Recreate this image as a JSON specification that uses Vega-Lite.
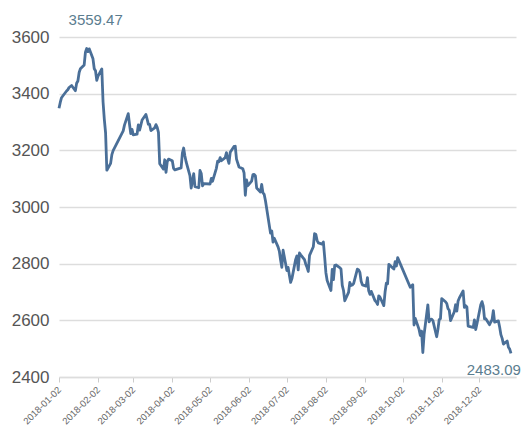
{
  "$schema": "https://vega.github.io/schema/vega-lite/v6.json",
  "autosize": "none",
  "padding": {"left": 59, "top": 37, "right": 12, "bottom": 61},
  "width": 457,
  "height": 340,
  "background": "white",
  "config": {"view": {"stroke": null}, "font": "Liberation Sans"},
  "data": {"values": [
    {"date":"2018-01-02","close":3348.33},{"date":"2018-01-03","close":3369.11},{"date":"2018-01-04","close":3385.71},{"date":"2018-01-05","close":3391.75},
    {"date":"2018-01-08","close":3409.48},{"date":"2018-01-09","close":3413.90},{"date":"2018-01-10","close":3421.83},{"date":"2018-01-11","close":3425.34},{"date":"2018-01-12","close":3428.94},
    {"date":"2018-01-15","close":3410.49},{"date":"2018-01-16","close":3436.59},{"date":"2018-01-17","close":3444.67},{"date":"2018-01-18","close":3474.75},{"date":"2018-01-19","close":3487.86},
    {"date":"2018-01-22","close":3501.36},{"date":"2018-01-23","close":3546.50},{"date":"2018-01-24","close":3559.47},{"date":"2018-01-25","close":3548.31},{"date":"2018-01-26","close":3558.13},
    {"date":"2018-01-29","close":3523.00},{"date":"2018-01-30","close":3488.01},{"date":"2018-01-31","close":3480.83},{"date":"2018-02-01","close":3446.98},{"date":"2018-02-02","close":3462.08},
    {"date":"2018-02-05","close":3487.50},{"date":"2018-02-06","close":3370.65},{"date":"2018-02-07","close":3309.26},{"date":"2018-02-08","close":3262.05},{"date":"2018-02-09","close":3129.85},
    {"date":"2018-02-12","close":3154.13},{"date":"2018-02-13","close":3184.96},{"date":"2018-02-14","close":3199.16},
    {"date":"2018-02-22","close":3268.56},{"date":"2018-02-23","close":3289.02},
    {"date":"2018-02-26","close":3329.57},{"date":"2018-02-27","close":3292.07},{"date":"2018-02-28","close":3259.41},{"date":"2018-03-01","close":3273.75},{"date":"2018-03-02","close":3254.53},
    {"date":"2018-03-05","close":3256.93},{"date":"2018-03-06","close":3289.64},{"date":"2018-03-07","close":3271.67},{"date":"2018-03-08","close":3288.41},{"date":"2018-03-09","close":3307.17},
    {"date":"2018-03-12","close":3326.70},{"date":"2018-03-13","close":3310.24},{"date":"2018-03-14","close":3291.38},{"date":"2018-03-15","close":3291.11},{"date":"2018-03-16","close":3269.88},
    {"date":"2018-03-19","close":3279.25},{"date":"2018-03-20","close":3290.64},{"date":"2018-03-21","close":3280.95},{"date":"2018-03-22","close":3263.48},{"date":"2018-03-23","close":3152.76},
    {"date":"2018-03-26","close":3133.72},{"date":"2018-03-27","close":3166.65},{"date":"2018-03-28","close":3122.29},{"date":"2018-03-29","close":3160.53},{"date":"2018-03-30","close":3168.90},
    {"date":"2018-04-02","close":3163.18},{"date":"2018-04-03","close":3136.63},{"date":"2018-04-04","close":3131.11},
    {"date":"2018-04-09","close":3138.29},{"date":"2018-04-10","close":3190.32},{"date":"2018-04-11","close":3208.08},{"date":"2018-04-12","close":3180.16},{"date":"2018-04-13","close":3159.05},
    {"date":"2018-04-16","close":3110.65},{"date":"2018-04-17","close":3066.80},{"date":"2018-04-18","close":3091.40},{"date":"2018-04-19","close":3117.38},{"date":"2018-04-20","close":3071.54},
    {"date":"2018-04-23","close":3068.01},{"date":"2018-04-24","close":3128.93},{"date":"2018-04-25","close":3117.97},{"date":"2018-04-26","close":3075.03},{"date":"2018-04-27","close":3082.23},
    {"date":"2018-05-02","close":3081.18},{"date":"2018-05-03","close":3100.86},{"date":"2018-05-04","close":3091.03},
    {"date":"2018-05-07","close":3136.64},{"date":"2018-05-08","close":3161.50},{"date":"2018-05-09","close":3159.15},{"date":"2018-05-10","close":3174.41},{"date":"2018-05-11","close":3163.26},
    {"date":"2018-05-14","close":3174.03},{"date":"2018-05-15","close":3192.12},{"date":"2018-05-16","close":3169.57},{"date":"2018-05-17","close":3154.28},{"date":"2018-05-18","close":3193.30},
    {"date":"2018-05-21","close":3213.84},{"date":"2018-05-22","close":3214.35},{"date":"2018-05-23","close":3168.96},{"date":"2018-05-24","close":3154.65},{"date":"2018-05-25","close":3141.30},
    {"date":"2018-05-28","close":3135.08},{"date":"2018-05-29","close":3120.46},{"date":"2018-05-30","close":3041.44},{"date":"2018-05-31","close":3095.47},{"date":"2018-06-01","close":3075.14},
    {"date":"2018-06-04","close":3091.19},{"date":"2018-06-05","close":3114.21},{"date":"2018-06-06","close":3115.18},{"date":"2018-06-07","close":3109.50},{"date":"2018-06-08","close":3067.15},
    {"date":"2018-06-11","close":3052.78},{"date":"2018-06-12","close":3079.80},{"date":"2018-06-13","close":3049.80},{"date":"2018-06-14","close":3044.16},{"date":"2018-06-15","close":3021.90},
    {"date":"2018-06-19","close":2907.82},{"date":"2018-06-20","close":2915.73},{"date":"2018-06-21","close":2875.81},{"date":"2018-06-22","close":2889.76},
    {"date":"2018-06-25","close":2859.34},{"date":"2018-06-26","close":2844.51},{"date":"2018-06-27","close":2813.18},{"date":"2018-06-28","close":2786.90},{"date":"2018-06-29","close":2847.42},
    {"date":"2018-07-02","close":2775.56},{"date":"2018-07-03","close":2786.89},{"date":"2018-07-04","close":2759.13},{"date":"2018-07-05","close":2733.88},{"date":"2018-07-06","close":2747.23},
    {"date":"2018-07-09","close":2815.11},{"date":"2018-07-10","close":2827.63},{"date":"2018-07-11","close":2777.77},{"date":"2018-07-12","close":2837.66},{"date":"2018-07-13","close":2831.18},
    {"date":"2018-07-16","close":2814.04},{"date":"2018-07-17","close":2798.13},{"date":"2018-07-18","close":2787.26},{"date":"2018-07-19","close":2772.55},{"date":"2018-07-20","close":2829.27},
    {"date":"2018-07-23","close":2859.54},{"date":"2018-07-24","close":2905.56},{"date":"2018-07-25","close":2903.65},{"date":"2018-07-26","close":2882.23},{"date":"2018-07-27","close":2873.59},
    {"date":"2018-07-30","close":2869.05},{"date":"2018-07-31","close":2876.40},{"date":"2018-08-01","close":2824.53},{"date":"2018-08-02","close":2768.02},{"date":"2018-08-03","close":2740.44},
    {"date":"2018-08-06","close":2705.16},{"date":"2018-08-07","close":2779.37},{"date":"2018-08-08","close":2744.07},{"date":"2018-08-09","close":2794.38},{"date":"2018-08-10","close":2795.31},
    {"date":"2018-08-13","close":2785.87},{"date":"2018-08-14","close":2780.96},{"date":"2018-08-15","close":2723.26},{"date":"2018-08-16","close":2705.19},{"date":"2018-08-17","close":2668.97},
    {"date":"2018-08-20","close":2698.47},{"date":"2018-08-21","close":2733.70},{"date":"2018-08-22","close":2722.89},{"date":"2018-08-23","close":2724.62},{"date":"2018-08-24","close":2729.43},
    {"date":"2018-08-27","close":2780.90},{"date":"2018-08-28","close":2777.98},{"date":"2018-08-29","close":2769.30},{"date":"2018-08-30","close":2737.74},{"date":"2018-08-31","close":2725.25},
    {"date":"2018-09-03","close":2720.73},{"date":"2018-09-04","close":2750.58},{"date":"2018-09-05","close":2704.34},{"date":"2018-09-06","close":2691.59},{"date":"2018-09-07","close":2702.30},
    {"date":"2018-09-10","close":2669.48},{"date":"2018-09-11","close":2664.80},{"date":"2018-09-12","close":2656.11},{"date":"2018-09-13","close":2686.58},{"date":"2018-09-14","close":2681.64},
    {"date":"2018-09-17","close":2651.79},{"date":"2018-09-18","close":2699.95},{"date":"2018-09-19","close":2730.85},{"date":"2018-09-20","close":2729.24},{"date":"2018-09-21","close":2797.49},
    {"date":"2018-09-25","close":2781.14},{"date":"2018-09-26","close":2806.81},{"date":"2018-09-27","close":2791.77},{"date":"2018-09-28","close":2821.35},
    {"date":"2018-10-08","close":2716.51},{"date":"2018-10-09","close":2721.01},{"date":"2018-10-10","close":2725.84},{"date":"2018-10-11","close":2583.46},{"date":"2018-10-12","close":2606.91},
    {"date":"2018-10-15","close":2568.10},{"date":"2018-10-16","close":2546.33},{"date":"2018-10-17","close":2561.61},{"date":"2018-10-18","close":2486.42},{"date":"2018-10-19","close":2550.47},
    {"date":"2018-10-22","close":2654.88},{"date":"2018-10-23","close":2594.83},{"date":"2018-10-24","close":2603.30},{"date":"2018-10-25","close":2603.80},{"date":"2018-10-26","close":2598.85},
    {"date":"2018-10-29","close":2542.10},{"date":"2018-10-30","close":2568.05},{"date":"2018-10-31","close":2602.78},{"date":"2018-11-01","close":2606.24},{"date":"2018-11-02","close":2676.48},
    {"date":"2018-11-05","close":2665.43},{"date":"2018-11-06","close":2659.36},{"date":"2018-11-07","close":2641.34},{"date":"2018-11-08","close":2635.63},{"date":"2018-11-09","close":2598.87},
    {"date":"2018-11-12","close":2630.52},{"date":"2018-11-13","close":2654.88},{"date":"2018-11-14","close":2632.24},{"date":"2018-11-15","close":2668.17},{"date":"2018-11-16","close":2679.11},
    {"date":"2018-11-19","close":2703.51},{"date":"2018-11-20","close":2645.43},{"date":"2018-11-21","close":2651.51},{"date":"2018-11-22","close":2646.80},{"date":"2018-11-23","close":2579.48},
    {"date":"2018-11-26","close":2575.81},{"date":"2018-11-27","close":2574.68},{"date":"2018-11-28","close":2601.74},{"date":"2018-11-29","close":2567.44},{"date":"2018-11-30","close":2588.19},
    {"date":"2018-12-03","close":2654.80},{"date":"2018-12-04","close":2665.96},{"date":"2018-12-05","close":2649.81},{"date":"2018-12-06","close":2605.18},{"date":"2018-12-07","close":2605.89},
    {"date":"2018-12-10","close":2584.58},{"date":"2018-12-11","close":2594.09},{"date":"2018-12-12","close":2602.15},{"date":"2018-12-13","close":2634.05},{"date":"2018-12-14","close":2593.74},
    {"date":"2018-12-17","close":2597.97},{"date":"2018-12-18","close":2576.65},{"date":"2018-12-19","close":2549.56},{"date":"2018-12-20","close":2536.27},{"date":"2018-12-21","close":2516.25},
    {"date":"2018-12-24","close":2527.01},{"date":"2018-12-25","close":2504.82},{"date":"2018-12-26","close":2498.29},{"date":"2018-12-27","close":2483.09}
  ]},
  "encoding": {
    "x": {
      "field": "date", "type": "temporal",
      "scale": {"type": "utc", "domain": [{"year": 2018, "month": 1, "date": 2, "utc": true}, {"year": 2018, "month": 12, "date": 31, "utc": true}]},
      "axis": {
        "title": null,
        "values": [
          {"year": 2018, "month": 1, "date": 2, "utc": true},{"year": 2018, "month": 2, "date": 2, "utc": true},{"year": 2018, "month": 3, "date": 2, "utc": true},
          {"year": 2018, "month": 4, "date": 2, "utc": true},{"year": 2018, "month": 5, "date": 2, "utc": true},{"year": 2018, "month": 6, "date": 2, "utc": true},
          {"year": 2018, "month": 7, "date": 2, "utc": true},{"year": 2018, "month": 8, "date": 2, "utc": true},{"year": 2018, "month": 9, "date": 2, "utc": true},
          {"year": 2018, "month": 10, "date": 2, "utc": true},{"year": 2018, "month": 11, "date": 2, "utc": true},{"year": 2018, "month": 12, "date": 2, "utc": true}
        ],
        "format": "%Y-%m-%d",
        "labelAngle": -45, "labelAlign": "right", "labelBaseline": "middle",
        "labelFontSize": 9.5, "labelColor": "#666666", "labelPadding": 6,
        "labelOverlap": false, "labelFlush": false,
        "grid": false, "domain": true, "domainColor": "#dddddd", "domainWidth": 1.5,
        "ticks": true, "tickColor": "#cccccc", "tickSize": 5
      }
    },
    "y": {
      "field": "close", "type": "quantitative",
      "scale": {"domain": [2400, 3600], "nice": false, "zero": false},
      "axis": {
        "title": null, "values": [2400, 2600, 2800, 3000, 3200, 3400, 3600], "format": "d",
        "domain": false, "ticks": false, "labelPadding": 10,
        "labelFontSize": 17, "labelColor": "#555555",
        "gridColor": "#dddddd", "gridWidth": 1.5
      }
    }
  },
  "layer": [
    {"mark": {"type": "line", "color": "#4a6f98", "strokeWidth": 2.8, "strokeJoin": "round", "clip": false}},
    {
      "transform": [{"filter": "datum.close == 3559.47"}],
      "mark": {"type": "text", "fontSize": 15, "color": "#5b7d8f", "dx": 9, "dy": -28, "align": "center", "baseline": "middle"},
      "encoding": {"text": {"field": "close", "type": "quantitative", "format": ".2f"}}
    },
    {
      "transform": [{"filter": "datum.close == 2483.09"}],
      "mark": {"type": "text", "fontSize": 15, "color": "#5b7d8f", "dx": 10, "dy": 17, "align": "right", "baseline": "middle"},
      "encoding": {"text": {"field": "close", "type": "quantitative", "format": ".2f"}}
    }
  ]
}
